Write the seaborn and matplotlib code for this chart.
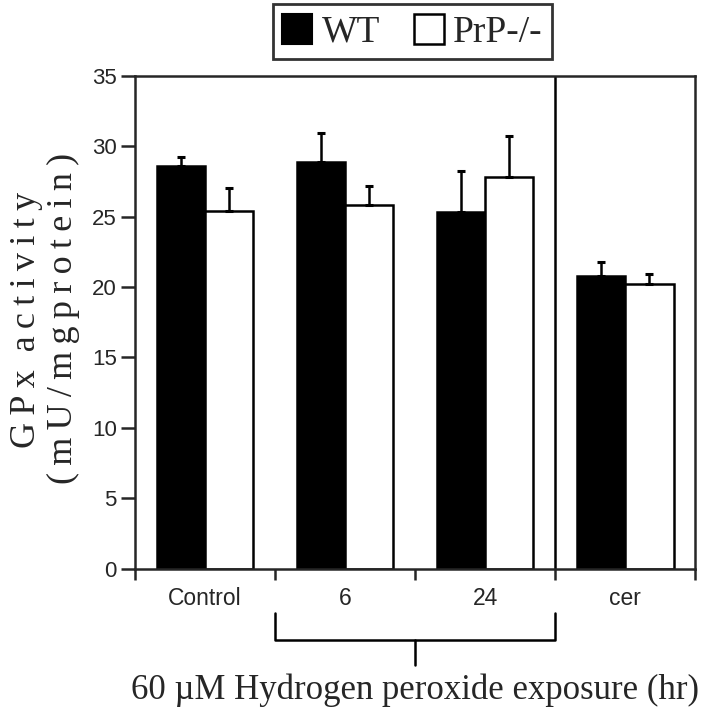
import numpy as np
import pandas as pd
import seaborn as sns
import matplotlib.pyplot as plt
from matplotlib.patches import Patch

# dados
groups = ['Control', '6', '24', 'cer']
genotypes = ['WT', 'PrP-/-']
wt_mean = [28.6, 28.9, 25.3, 20.8]
wt_err = [0.6, 2.0, 2.9, 1.0]
ko_mean = [25.4, 25.8, 27.8, 20.2]
ko_err = [1.6, 1.4, 2.9, 0.7]

df = pd.DataFrame({
    'grupo': groups * 2,
    'genotipo': [genotypes[0]] * 4 + [genotypes[1]] * 4,
    'gpx': wt_mean + ko_mean,
    'erro': wt_err + ko_err,
})

sns.set_style('ticks')
plt.rcParams['font.family'] = ['Liberation Sans', 'DejaVu Sans']
serif = ['Liberation Serif', 'DejaVu Serif']

fig = plt.figure(figsize=(7.03, 7.20), dpi=100)
ax = fig.add_axes([0.192, 0.21, 0.797, 0.685])

sns.barplot(data=df, x='grupo', y='gpx', hue='genotipo', order=groups,
            hue_order=genotypes, palette=['black', 'white'], edgecolor='black',
            linewidth=1.8, width=0.69, errorbar=None, legend=False, ax=ax)

# barras de erro so para cima
for bars, (g, sub) in zip(ax.containers, df.groupby('genotipo', sort=False)):
    xs = [b.get_x() + b.get_width() / 2 for b in bars]
    ys = sub['gpx'].values
    ax.errorbar(xs, ys, yerr=[np.zeros(len(ys)), sub['erro'].values], fmt='none',
                ecolor='black', elinewidth=1.8, capsize=3, capthick=2.2, zorder=5)

ax.set_xlim(-0.5, 3.5)
ax.set_ylim(0, 35)
ax.set_yticks(range(0, 36, 5))
ax.set_xticks([-0.5, 0.5, 1.5, 2.5, 3.5])
ax.set_xticklabels([])
ax.set_xticks(range(4), minor=True)
ax.set_xticklabels(groups, minor=True)
ax.tick_params(axis='x', which='minor', length=0, pad=13, labelsize=16.5)
ax.tick_params(axis='x', which='major', length=8, width=1.8, direction='out')
ax.tick_params(axis='y', length=10, width=1.8, direction='out', labelsize=16, pad=3)
ax.set_xlabel('')
ax.set_ylabel('')
for s in ax.spines.values():
    s.set_visible(True)
    s.set_linewidth(1.8)
ax.axvline(2.5, color='black', lw=1.8)

# colchete das exposicoes
tr = ax.get_xaxis_transform()
ax.plot([0.5, 0.5, 2.5, 2.5], [-0.089, -0.145, -0.145, -0.089], color='black',
        lw=1.8, transform=tr, clip_on=False)
ax.plot([1.5, 1.5], [-0.145, -0.195], color='black', lw=1.8, transform=tr, clip_on=False)
fig.text(0.591, 0.041, '60 \u00b5M Hydrogen peroxide exposure (hr)', ha='center',
         va='center', fontsize=25, family=serif)

# rotulo do eixo y com letras espacadas (espaco fino)
sp = '\u2009'
fig.text(0.038, 0.555, sp.join('GPx') + '  ' + sp.join('activity'),
         rotation=90, ha='center', va='center', fontsize=26, family=serif)
fig.text(0.090, 0.558, sp.join('(mU/mgprotein)'), rotation=90, ha='center',
         va='center', fontsize=26, family=serif)

handles = [Patch(facecolor='black', edgecolor='black', lw=1.5),
           Patch(facecolor='white', edgecolor='black', lw=1.8)]
leg = fig.legend(handles, genotypes, loc='upper center', bbox_to_anchor=(0.587, 0.994),
                 ncol=2, frameon=True, fancybox=False, prop={'family': serif, 'size': 27},
                 handlelength=0.8, handleheight=0.85, handletextpad=0.25,
                 columnspacing=0.9, borderpad=0.25, borderaxespad=0)
leg.get_frame().set_edgecolor('black')
leg.get_frame().set_linewidth(2)

fig.savefig('out.png', dpi=100, facecolor='white')
